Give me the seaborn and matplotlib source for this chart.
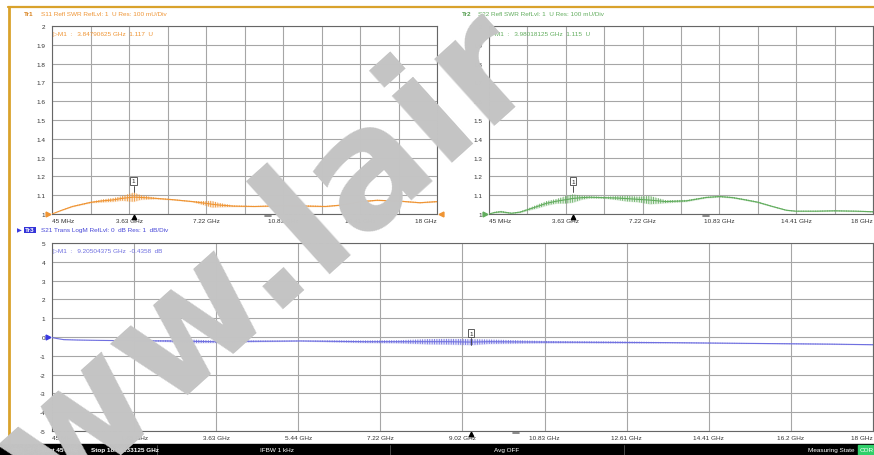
import numpy as np
import matplotlib
matplotlib.use("Agg")
import matplotlib.pyplot as plt
import matplotlib.transforms as mtrans
from matplotlib.lines import Line2D
from matplotlib.patches import Rectangle
import seaborn as sns

# ---------------- data ----------------
# S11 SWR (Tr1)
s11_freq = [0.045, 0.5, 1.0, 1.85, 2.4, 2.9, 3.3, 3.63, 3.85, 4.2, 4.9, 5.7, 6.6, 7.2, 7.5,
            7.8, 8.5, 9.5, 10.8, 12.0, 12.8, 13.5, 14.4, 15.2, 16.3, 17.2, 18.0]
s11_val = [1.0, 1.02, 1.04, 1.062, 1.07, 1.075, 1.083, 1.087, 1.09, 1.088, 1.083, 1.076, 1.066,
           1.057, 1.052, 1.048, 1.042, 1.04, 1.044, 1.042, 1.04, 1.047, 1.065, 1.073, 1.068, 1.06, 1.066]
s11_ripple = [0.0, 0.002, 0.003, 0.004, 0.008, 0.01, 0.012, 0.02, 0.025, 0.012, 0.004, 0.003, 0.003,
              0.012, 0.018, 0.012, 0.004, 0.003, 0.003, 0.004, 0.003, 0.003, 0.003, 0.003, 0.003, 0.003, 0.003]

# S22 SWR (Tr2)
s22_freq = [0.045, 0.3, 0.6, 1.1, 1.5, 1.85, 2.3, 2.74, 3.2, 3.63, 3.98, 4.4, 4.76, 5.44, 6.0, 6.47,
            7.0, 7.57, 8.3, 9.28, 10.2, 10.83, 11.45, 12.0, 12.6, 13.3, 13.95, 14.4, 15.35, 16.2, 17.2, 18.0]
s22_val = [1.0, 1.008, 1.012, 1.004, 1.01, 1.023, 1.04, 1.057, 1.068, 1.076, 1.083, 1.087, 1.089, 1.087,
           1.085, 1.082, 1.078, 1.074, 1.066, 1.07, 1.088, 1.093, 1.087, 1.076, 1.063, 1.04, 1.02, 1.015,
           1.015, 1.017, 1.015, 1.012]
s22_ripple = [0.0, 0.004, 0.005, 0.003, 0.004, 0.006, 0.01, 0.012, 0.012, 0.02, 0.022, 0.01, 0.006, 0.005,
              0.01, 0.015, 0.015, 0.022, 0.008, 0.005, 0.004, 0.004, 0.004, 0.004, 0.004, 0.003, 0.003,
              0.003, 0.003, 0.003, 0.003, 0.003]

# S21 LogM (Tr3)
s21_freq = [0.045, 0.15, 0.3, 0.6, 1.1, 1.85, 2.55, 3.06, 3.63, 4.3, 5.0, 5.47, 6.2, 6.93, 7.6, 8.27,
            8.7, 9.2, 9.6, 10.2, 10.8, 11.7, 12.6, 13.5, 14.4, 15.3, 16.2, 17.1, 18.0]
s21_val = [-0.03, -0.08, -0.14, -0.16, -0.18, -0.2, -0.21, -0.23, -0.25, -0.23, -0.22, -0.21, -0.23,
           -0.25, -0.25, -0.25, -0.25, -0.27, -0.25, -0.26, -0.27, -0.28, -0.29, -0.3, -0.32, -0.34,
           -0.36, -0.38, -0.41]
s21_ripple = [0.0, 0.0, 0.01, 0.01, 0.01, 0.02, 0.05, 0.1, 0.06, 0.05, 0.03, 0.02, 0.05, 0.07, 0.08,
              0.14, 0.15, 0.16, 0.12, 0.09, 0.06, 0.05, 0.05, 0.03, 0.02, 0.02, 0.02, 0.02, 0.02]

# markers (freq GHz, value)
m_s11 = (3.84790625, 1.117)
m_s22 = (3.98018125, 1.115)
m_s21 = (9.20504375, -0.4358)

x_ticks_top = ["45 MHz", "", "3.63 GHz", "", "7.22 GHz", "", "10.83 GHz", "", "14.41 GHz", "", "18 GHz"]
x_ticks_bot = ["45 MHz", "1.85 GHz", "3.63 GHz", "5.44 GHz", "7.22 GHz", "9.02 GHz", "10.83 GHz",
               "12.61 GHz", "14.41 GHz", "16.2 GHz", "18 GHz"]
y_ticks_swr = ["1", "1.1", "1.2", "1.3", "1.4", "1.5", "1.6", "1.7", "1.8", "1.9", "2"]
y_ticks_db = ["-5", "-4", "-3", "-2", "-1", "0", "1", "2", "3", "4", "5"]

hdr1 = "S11 Refl SWR RefLvl: 1  U Res: 100 mU/Div"
hdr2 = "S22 Refl SWR RefLvl: 1  U Res: 100 mU/Div"
hdr3 = "S21 Trans LogM RefLvl: 0  dB Res: 1  dB/Div"
mk1 = "\u25b7M1  :   3.84790625 GHz  1.117  U"
mk2 = "\u25b7M1  :   3.98018125 GHz  1.115  U"
mk3 = "\u25b7M1  :   9.20504375 GHz  -0.4358  dB"

# ---------------- style ----------------
sns.set_style("white")
plt.rcParams['font.family'] = ['Liberation Sans', 'DejaVu Sans']
plt.rcParams['hatch.linewidth'] = 0.6

ORANGE = '#ef9433'
GREEN = '#62ad5e'
BLUE = '#6f6fe0'
GOLD = '#d9a22c'

W, H = 874, 456
fig = plt.figure(figsize=(W / 100, H / 100), dpi=100)
fig.patch.set_facecolor('white')


def fx(px):
    return px / W


def fy(py):
    return 1 - py / H


def add_ax(l, t, r, b):
    return fig.add_axes([fx(l), fy(b), fx(r) - fx(l), fy(t) - fy(b)])


def style_ax(ax, ylo, yhi, ylabels, xlabels):
    ax.set_xlim(0.045, 18.0)
    ax.set_ylim(ylo, yhi)
    xt = np.linspace(0.045, 18.0, 11)
    yt = np.linspace(ylo, yhi, 11)
    ax.set_xticks(xt)
    ax.set_yticks(yt)
    ax.set_xticklabels(xlabels)
    ax.set_yticklabels(ylabels)
    ax.tick_params(length=0, labelsize=4.6, colors='#333333', pad=3)
    ax.tick_params(axis='y', pad=5)
    labs = ax.get_xticklabels()
    labs[0].set_ha('left')
    labs[-1].set_ha('right')
    ax.grid(True, color='#a6a6a6', lw=0.8)
    for s in ax.spines.values():
        s.set_color('#666666')
        s.set_linewidth(0.8)
    ax.set_facecolor('white')


def draw_trace(ax, f, v, r, color):
    v = np.asarray(v)
    r = np.asarray(r)
    ax.fill_between(f, v - r, v + r, facecolor='none', edgecolor=color, hatch='|||||||', lw=0, zorder=3)
    ax.fill_between(f, v - r, v + r, color=color, alpha=0.18, lw=0, zorder=3)
    sns.lineplot(x=f, y=v, ax=ax, color=color, lw=0.8, zorder=4)


def draw_marker(ax, m, boxval, linetop, color):
    ax.plot([m[0], m[0]], [m[1], linetop], color='#333333', lw=0.6, zorder=5)
    ax.text(m[0], boxval, "1", ha='center', va='center', fontsize=4.5, color='#222222', zorder=6,
            bbox=dict(boxstyle='square,pad=0.25', fc='white', ec='#444444', lw=0.6))
    tr = mtrans.blended_transform_factory(ax.transData, ax.transAxes)
    ax.plot([m[0]], [-0.018], marker='^', color='black', ms=3.2, transform=tr, clip_on=False, zorder=6)


ax1 = add_ax(52, 27, 437, 215)
ax2 = add_ax(489, 27, 873, 215)
ax3 = add_ax(52, 244, 873, 432)

style_ax(ax1, 1.0, 2.0, y_ticks_swr, x_ticks_top)
style_ax(ax2, 1.0, 2.0, y_ticks_swr, x_ticks_top)
style_ax(ax3, -5, 5, y_ticks_db, x_ticks_bot)

draw_trace(ax1, s11_freq, s11_val, s11_ripple, ORANGE)
draw_trace(ax2, s22_freq, s22_val, s22_ripple, GREEN)
draw_trace(ax3, s21_freq, s21_val, s21_ripple, BLUE)

draw_marker(ax1, m_s11, 1.177, 1.15, ORANGE)
draw_marker(ax2, m_s22, 1.175, 1.148, GREEN)
draw_marker(ax3, m_s21, 0.2, -0.07, BLUE)

# marker readouts
ax1.text(0.003, 0.975, mk1, transform=ax1.transAxes, fontsize=4.6, color=ORANGE, va='top', ha='left')
ax2.text(0.003, 0.975, mk2, transform=ax2.transAxes, fontsize=4.6, color=GREEN, va='top', ha='left')
ax3.text(0.001, 0.975, mk3, transform=ax3.transAxes, fontsize=4.6, color=BLUE, va='top', ha='left')

# headers
fig.text(fx(24), fy(14), "Tr1", fontsize=4.6, color='#d8801a', fontweight='bold', va='center')
fig.text(fx(41), fy(14), hdr1, fontsize=4.6, color=ORANGE, va='center')
fig.text(fx(462), fy(14), "Tr2", fontsize=4.6, color='#4f9a4b', fontweight='bold', va='center')
fig.text(fx(478), fy(14), hdr2, fontsize=4.6, color=GREEN, va='center')
fig.text(fx(17), fy(231), "\u25b6", fontsize=4.5, color='#3a3ae0', va='center', family='DejaVu Sans')
fig.text(fx(25), fy(231), "Tr3", fontsize=4.6, color='white', fontweight='bold', va='center',
         bbox=dict(boxstyle='square,pad=0.15', fc='#3434d8', ec='none'))
fig.text(fx(41), fy(231), hdr3, fontsize=4.6, color='#4848d8', va='center')

# reference level arrows and span dashes (decorations)
for (px, py, mk, c) in [(48, 215, '>', ORANGE), (441, 215, '<', ORANGE), (485, 215, '>', GREEN),
                        (48, 338, '>', '#3a3ae0')]:
    fig.add_artist(Line2D([fx(px)], [fy(py)], marker=mk, color=c, ms=3.5, transform=fig.transFigure))
for (x0, py) in [(265, 217), (703, 217), (513, 434)]:
    fig.add_artist(Line2D([fx(x0), fx(x0 + 6)], [fy(py), fy(py)], color='#777777', lw=1.2,
                          transform=fig.transFigure))

# gold frame
fig.add_artist(Line2D([fx(8), fx(874)], [fy(8), fy(8)], color=GOLD, lw=1.6, transform=fig.transFigure))
fig.add_artist(Line2D([fx(9), fx(9)], [fy(8), fy(445)], color=GOLD, lw=2.0, transform=fig.transFigure))

# status bar
fig.add_artist(Rectangle((0, 0), 1, fy(445), color='black', transform=fig.transFigure, zorder=5))
for sx in [23, 38, 157, 390, 624]:
    fig.add_artist(Line2D([fx(sx), fx(sx)], [fy(446), fy(456)], color='#555555', lw=0.6,
                          transform=fig.transFigure, zorder=6))
sb_y = fy(451)
fig.text(fx(12), sb_y, "Ch1", fontsize=4.6, color='white', va='center', zorder=7)
fig.text(fx(27), sb_y, "TR", fontsize=4.6, color='white', va='center', zorder=7)
fig.text(fx(40), sb_y, "Start 45 MHz", fontsize=4.6, color='white', va='center', fontweight='bold', zorder=7)
fig.text(fx(91), sb_y, "Stop 18.00133125 GHz", fontsize=4.6, color='white', va='center',
         fontweight='bold', zorder=7)
fig.text(fx(277), sb_y, "IFBW 1 kHz", fontsize=4.6, color='white', va='center', ha='center', zorder=7)
fig.text(fx(507), sb_y, "Avg OFF", fontsize=4.6, color='white', va='center', ha='center', zorder=7)
fig.text(fx(855), sb_y, "Measuring State", fontsize=4.6, color='white', va='center', ha='right', zorder=7)
fig.add_artist(Rectangle((fx(858), 0), 1 - fx(858), fy(446), color='#2fd06a', transform=fig.transFigure,
                         zorder=6))
fig.text(fx(860), sb_y, "COR", fontsize=4.6, color='white', va='center', zorder=7)

# watermark
wm_kw = dict(fontsize=118, fontweight='bold', color='#c4c4c4', rotation=42, rotation_mode='anchor',
             va='baseline', zorder=20, family='DejaVu Sans')
fig.text(fx(316), fy(275), "www.", ha='right', **wm_kw)
fig.text(fx(316), fy(275), "lair", ha='left', **wm_kw)

fig.savefig("out.png", dpi=100)
